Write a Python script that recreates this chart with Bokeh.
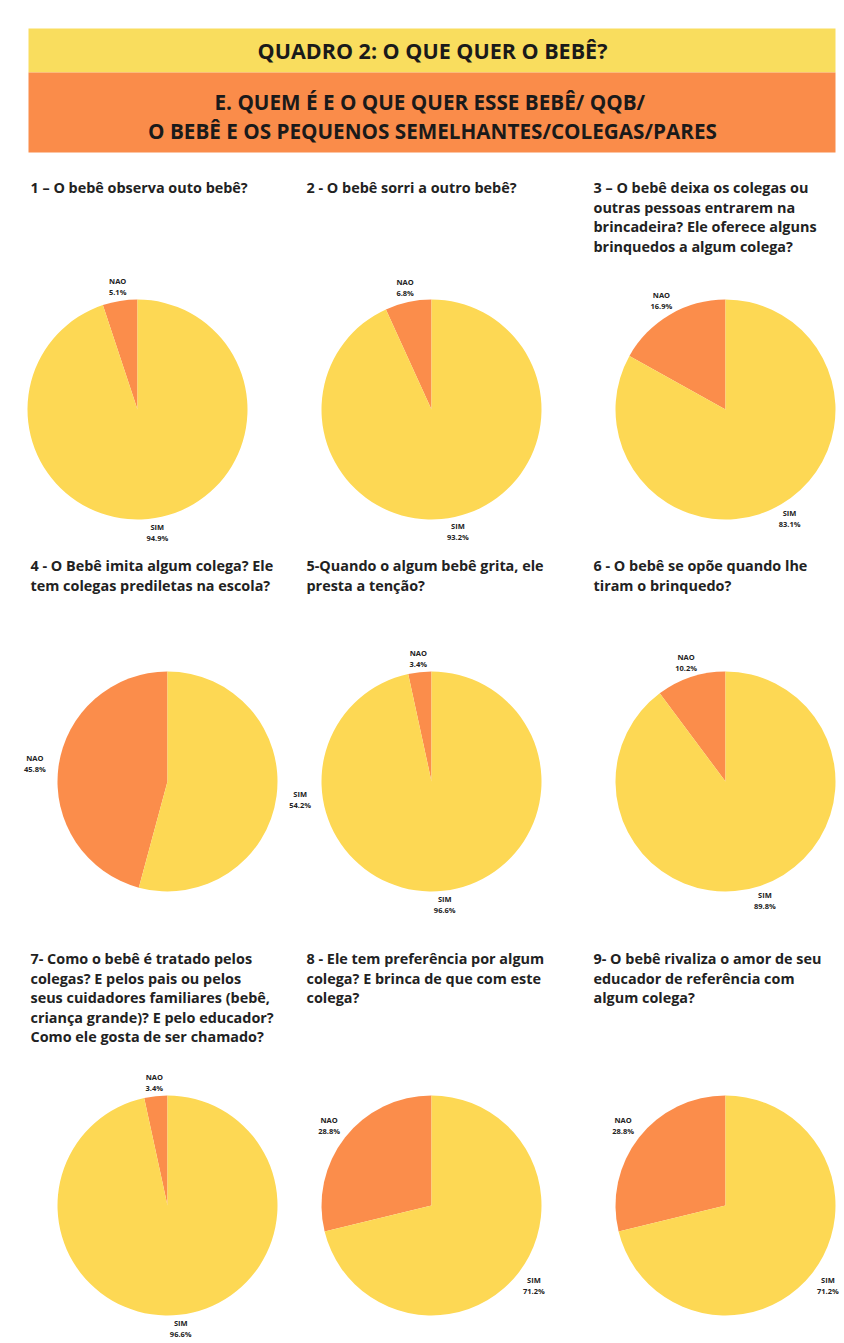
import math
from bokeh.plotting import figure
from bokeh.models import Range1d, ColumnDataSource
from bokeh.core.properties import value
from bokeh.embed import file_html
from bokeh.resources import INLINE

W, H = 844, 1343

header_title = "QUADRO 2: O QUE QUER O BEBÊ?"
header_sub = ["E.  QUEM É E O QUE QUER ESSE BEBÊ/ QQB/",
              "O BEBÊ E OS PEQUENOS SEMELHANTES/COLEGAS/PARES"]

titles = [
    ["1 – O bebê observa outo bebê?"],
    ["2 - O bebê sorri a outro bebê?"],
    ["3 – O bebê deixa os colegas ou", "outras pessoas entrarem na",
     "brincadeira? Ele oferece alguns", "brinquedos a algum colega?"],
    ["4 - O Bebê imita algum colega? Ele", "tem colegas prediletas na escola?"],
    ["5-Quando o algum bebê grita, ele", "presta a tenção?"],
    ["6 - O bebê se opõe quando lhe", "tiram o brinquedo?"],
    ["7- Como o bebê é tratado pelos", "colegas? E pelos pais ou pelos",
     "seus cuidadores familiares (bebê,", "criança grande)? E pelo educador?",
     "Como ele gosta de ser chamado?"],
    ["8 - Ele tem preferência por algum", "colega? E brinca de que com este",
     "colega?"],
    ["9- O bebê rivaliza o amor de seu", "educador de referência com",
     "algum colega?"],
]
categories = ["NAO", "SIM"]
nao = [5.1, 6.8, 16.9, 45.8, 3.4, 10.2, 3.4, 28.8, 28.8]
sim = [94.9, 93.2, 83.1, 54.2, 96.6, 89.8, 96.6, 71.2, 71.2]

YELLOW_H = "#F9DD5E"
ORANGE_H = "#FA8C4A"
PIE_Y = "#FDD854"
PIE_O = "#FB8D4B"

# layout (pixel space, y measured from top)
col_title_x = [30, 306, 593]
row_title_y = [187, 565, 958]
pie_cx = [[137, 431, 725], [167, 431, 725], [167, 431, 725]]
pie_cy = [409, 781, 1205]
R = 110

p = figure(width=W, height=H, x_range=Range1d(0, W), y_range=Range1d(0, H),
           output_backend="svg", toolbar_location=None, min_border=0)
p.axis.visible = False
p.grid.visible = False
p.outline_line_color = None
p.background_fill_color = "white"
p.border_fill_color = "white"

def Y(y):
    return H - y

# header bands
p.quad(left=[28], right=[835], top=[Y(28)], bottom=[Y(72)], fill_color=YELLOW_H, line_color=None)
p.quad(left=[28], right=[835], top=[Y(72)], bottom=[Y(152)], fill_color=ORANGE_H, line_color=None)
p.text(x=[432], y=[Y(50)], text=[header_title], text_font=value("Open Sans"),
       text_font_style="bold", text_font_size="21.5px", text_color="#1a1a1a",
       text_align="center", text_baseline="middle")
p.text(x=[432, 432], y=[Y(101), Y(130)], text=header_sub, text_font=value("Open Sans"),
       text_font_style="bold", text_font_size="20.7px", text_color="#1a1a1a",
       text_align="center", text_baseline="middle")

for i in range(9):
    r, c = divmod(i, 3)
    # title
    tl = titles[i]
    p.text(x=[col_title_x[c]] * len(tl),
           y=[Y(row_title_y[r] + 19.5 * k) for k in range(len(tl))],
           text=tl, text_font=value("Open Sans"), text_font_style="bold",
           text_font_size="14.4px", text_color="#222222",
           text_align="left", text_baseline="middle")
    cx, cy = pie_cx[r][c], Y(pie_cy[r])
    vals = [nao[i], sim[i]]
    tot = sum(vals)
    start = math.pi / 2
    starts, ends, mids = [], [], []
    for v in vals:
        a = 2 * math.pi * v / tot
        starts.append(start)
        ends.append(start + a)
        mids.append(start + a / 2)
        start += a
    src = ColumnDataSource(dict(x=[cx, cx], y=[cy, cy], s=starts, e=ends,
                                color=[PIE_O, PIE_Y]))
    p.wedge(x="x", y="y", radius=R, start_angle="s", end_angle="e",
            fill_color="color", line_color=None, source=src)
    for k, cat in enumerate(categories):
        m = mids[k]
        sx = abs(math.cos(m))
        rl = R + 14 + 10 * sx * sx
        lx = cx + rl * math.cos(m)
        ly = cy + rl * math.sin(m)
        p.text(x=[lx, lx], y=[ly + 5.5, ly - 5.5],
               text=[cat, f"{vals[k]:.1f}%"], text_font=value("Open Sans"),
               text_font_style="bold", text_font_size="7.5px", text_color="#222222",
               text_align="center", text_baseline="middle")

open("out.html", "w").write(file_html(p, INLINE))
